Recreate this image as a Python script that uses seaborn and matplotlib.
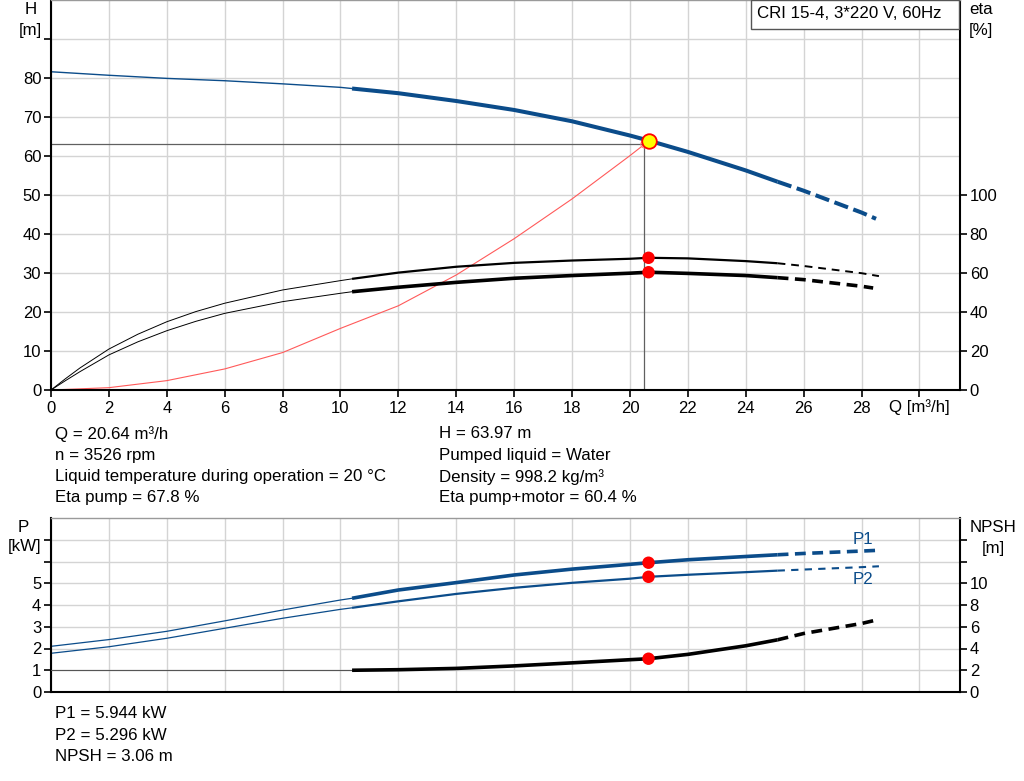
import matplotlib

matplotlib.use("Agg")
import matplotlib.pyplot as plt          # noqa: E402
from matplotlib.patches import Rectangle  # noqa: E402
import numpy as np                       # noqa: E402
import pandas as pd                      # noqa: E402
import seaborn as sns                    # noqa: E402

BLUE = "#0b4c8a"
RED = "#ff0000"
GRID = "#d4d4d4"
FS = 12.2

# ---------------------------------------------------------------------------
# Data
# ---------------------------------------------------------------------------
Q_DUTY = 20.64
Q_REQ, H_REQ = 20.5, 63.0          # requested point (gray cross lines)

q_head = [0, 2, 4, 6, 8, 10, 10.4, 12, 14, 16, 18, 20, 20.64, 22, 24, 25.1, 26, 27, 28, 28.5]
head = [81.6, 80.7, 79.9, 79.3, 78.5, 77.6, 77.3, 76.1, 74.1, 71.8, 68.9, 65.25, 63.97,
        61.05, 56.3, 53.4, 51.1, 48.3, 45.5, 43.9]

q_sys = [0, 2, 4, 6, 8, 10, 12, 14, 16, 18, 20, 20.5]
h_sys = [0, 0.6, 2.4, 5.4, 9.6, 15.8, 21.6, 29.5, 38.8, 49.0, 60.1, 63.0]

q_eta_p = [0, 0.5, 1, 2, 3, 4, 5, 6, 8, 10, 10.4, 12, 14, 16, 18, 20, 20.64, 22, 24, 25.1,
           26, 28, 28.6]
eta_pump = [0, 5.8, 11.3, 21.0, 28.6, 35.0, 40.2, 44.5, 51.3, 56.1, 57.0, 60.2, 63.2, 65.2,
            66.4, 67.3, 67.8, 67.5, 66.1, 65.0, 63.6, 59.9, 58.4]

q_eta_m = [0, 0.5, 1, 2, 3, 4, 5, 6, 8, 10, 10.4, 12, 14, 16, 18, 20, 20.64, 22, 24, 25.1,
           26, 28, 28.4]
eta_motor = [0, 4.8, 9.4, 18.0, 24.7, 30.4, 35.2, 39.3, 45.3, 49.6, 50.4, 52.7, 55.2, 57.3,
             58.7, 59.9, 60.4, 59.8, 58.7, 57.6, 56.6, 53.2, 52.3]

q_p1 = [0, 2, 4, 6, 8, 10, 10.4, 12, 14, 16, 18, 20, 20.64, 22, 24, 25.1, 26, 28, 28.5]
p1 = [2.10, 2.41, 2.79, 3.27, 3.77, 4.23, 4.31, 4.69, 5.03, 5.38, 5.65, 5.87, 5.944,
      6.08, 6.23, 6.31, 6.37, 6.48, 6.51]

q_p2 = [0, 2, 4, 6, 8, 10, 10.4, 12, 14, 16, 18, 20, 20.64, 22, 24, 25.1, 26, 28, 28.6]
p2 = [1.78, 2.08, 2.47, 2.93, 3.39, 3.80, 3.87, 4.17, 4.51, 4.79, 5.02, 5.21, 5.296,
      5.39, 5.51, 5.58, 5.63, 5.74, 5.78]

q_npsh = [0, 10.4, 12, 14, 16, 18, 20, 20.64, 22, 24, 25.1, 26, 28, 28.4]
npsh = [2.0, 2.0, 2.05, 2.17, 2.40, 2.68, 2.97, 3.06, 3.46, 4.25, 4.80, 5.38, 6.30, 6.55]

info_left = ["Q = 20.64 m³/h", "n = 3526 rpm",
             "Liquid temperature during operation = 20 °C", "Eta pump = 67.8 %"]
info_right = ["H = 63.97 m", "Pumped liquid = Water",
              "Density = 998.2 kg/m³", "Eta pump+motor = 60.4 %"]
info_bottom = ["P1 = 5.944 kW", "P2 = 5.296 kW", "NPSH = 3.06 m"]

# ---------------------------------------------------------------------------
sns.set_theme(style="whitegrid")
plt.rcParams["font.family"] = ["Liberation Sans", "DejaVu Sans"]
plt.rcParams["font.size"] = FS

W, H_PX = 1024, 781
fig = plt.figure(figsize=(W / 100, H_PX / 100), dpi=100)


def px(x, y):
    return x / W, 1 - y / H_PX


def curve(ax, q, v, color, lw, dash, q_a=10.4, q_b=25.1):
    """Thin line below q_a, thick solid between q_a..q_b, dashed beyond."""
    df = pd.DataFrame({"q": q, "v": v})
    thin = df[df.q <= q_a]
    solid = df[(df.q >= q_a) & (df.q <= q_b)]
    dashed = df[df.q >= q_b]
    kw = dict(x="q", y="v", ax=ax, color=color, sort=False, errorbar=None, legend=False)
    sns.lineplot(data=thin, lw=lw[0], **kw)
    sns.lineplot(data=solid, lw=lw[1], solid_capstyle="butt", solid_joinstyle="round", **kw)
    sns.lineplot(data=dashed, lw=lw[2], linestyle=(0, dash), dash_capstyle="butt", **kw)


def style_axes(ax):
    ax.set_xlim(0, 31.4)
    ax.set_facecolor("white")
    ax.grid(True, color=GRID, lw=1.0)
    for s in ("left", "bottom", "right"):
        ax.spines[s].set_color("black")
        ax.spines[s].set_linewidth(1.5)
    ax.spines["top"].set_color("#9a9a9a")
    ax.spines["top"].set_linewidth(1.0)
    ax.set_xlabel("")
    ax.set_ylabel("")
    ax.tick_params(direction="out", length=5, width=1.2, color="black",
                   labelsize=12, labelcolor="black", pad=2)


def style_twin(ax):
    ax.grid(False)
    for s in ax.spines.values():
        s.set_visible(False)
    ax.tick_params(axis="y", right=True, direction="out", length=5, width=1.2, color="black",
                   labelsize=12, labelcolor="black", pad=2)


# ---------------------------- top: H / eta ---------------------------------
ax = fig.add_axes([51 / W, 1 - 390 / H_PX, (960 - 51) / W, 390 / H_PX])
style_axes(ax)
ax.set_ylim(0, 100)
xt = np.arange(0, 31, 2)
ax.set_xticks(xt)
ax.set_xticklabels([str(v) if v <= 28 else "" for v in xt])
yt = np.arange(0, 100, 10)
ax.set_yticks(yt)
ax.set_yticklabels([str(v) if v <= 80 else "" for v in yt])
ax.tick_params(axis="x", bottom=True, pad=3)
ax.tick_params(axis="y", left=True)

# requested point cross lines
ax.plot([0, Q_REQ], [H_REQ, H_REQ], color="#606060", lw=0.9)
ax.plot([Q_REQ, Q_REQ], [0, H_REQ], color="#606060", lw=0.9)

sns.lineplot(x=q_sys, y=h_sys, ax=ax, color="#ff5a5a", lw=0.8, sort=False, errorbar=None)
ax.scatter([q_sys[-1]], [h_sys[-1]], s=28, facecolor="none", edgecolor="#ff8080", lw=0.7, zorder=4)

curve(ax, q_head, head, BLUE, (1.0, 2.9, 2.9), (3.6, 1.4))

axe = ax.twinx()
axe.set_ylim(0, 200)
style_twin(axe)
axe.set_yticks(np.arange(0, 101, 20))
curve(axe, q_eta_p, eta_pump, "black", (0.7, 1.6, 1.4), (4.0, 3.0))
curve(axe, q_eta_m, eta_motor, "black", (0.7, 2.6, 2.6), (3.0, 1.8))
axe.set_ylabel("")
sns.scatterplot(x=[Q_DUTY, Q_DUTY], y=[eta_pump[16], eta_motor[16]], ax=axe, s=80,
                color=RED, edgecolor="none", zorder=5)
sns.scatterplot(x=[Q_DUTY], y=[head[12]], ax=ax, s=110, color="#ffff00",
                edgecolor=RED, linewidth=1.3, zorder=6)

# ---------------------------- bottom: P / NPSH -----------------------------
bx = fig.add_axes([51 / W, 1 - 692 / H_PX, (960 - 51) / W, 174 / H_PX])
style_axes(bx)
bx.set_ylim(0, 8)
bx.set_xticks(xt)
bx.set_xticklabels([])
bx.tick_params(axis="x", bottom=False, length=0)
bx.set_yticks(np.arange(0, 8, 1))
bx.set_yticklabels([str(v) if v <= 5 else "" for v in range(8)])
bx.tick_params(axis="y", left=True)

curve(bx, q_p1, p1, BLUE, (0.9, 2.6, 2.6), (3.0, 1.8))
curve(bx, q_p2, p2, BLUE, (0.9, 1.6, 1.5), (3.5, 3.0))

bxn = bx.twinx()
bxn.set_ylim(0, 16)
style_twin(bxn)
bxn.set_yticks(np.arange(0, 15, 2))
bxn.set_yticklabels([str(v) if v <= 10 else "" for v in range(0, 15, 2)])
curve(bxn, q_npsh, npsh, "black", (0.8, 2.6, 2.6), (3.0, 1.8))
bxn.get_lines()[0].set_color("#555555")
bxn.set_ylabel("")

sns.scatterplot(x=[Q_DUTY, Q_DUTY], y=[p1[12], p2[12]], ax=bx, s=80, color=RED,
                edgecolor="none", zorder=5)
sns.scatterplot(x=[Q_DUTY], y=[npsh[7]], ax=bxn, s=80, color=RED, edgecolor="none", zorder=5)
bx.set_xlabel(""); bx.set_ylabel("")
ax.set_xlabel(""); ax.set_ylabel("")

# ---------------------------- text -----------------------------------------
tk = dict(fontsize=FS, color="black")
fig.text(*px(31, 10), "H", ha="center", va="center", **tk)
fig.text(*px(30, 30), "[m]", ha="center", va="center", **tk)
fig.text(*px(981, 10), "eta", ha="center", va="center", **tk)
fig.text(*px(981, 30), "[%]", ha="center", va="center", **tk)
fig.text(*px(889, 407), "Q [m³/h]", ha="left", va="center", **tk)
fig.text(*px(23, 527), "P", ha="center", va="center", **tk)
fig.text(*px(25, 547), "[kW]", ha="center", va="center", **tk)
fig.text(*px(993, 528), "NPSH", ha="center", va="center", **tk)
fig.text(*px(993, 548), "[m]", ha="center", va="center", **tk)
fig.text(*px(863, 540), "P1", ha="center", va="center", fontsize=FS, color=BLUE)
fig.text(*px(863, 579), "P2", ha="center", va="center", fontsize=FS, color=BLUE)

for i, s in enumerate(info_left):
    fig.text(*px(55, 434 + 21.3 * i), s, ha="left", va="center", **tk)
for i, s in enumerate(info_right):
    fig.text(*px(439, 434 + 21.3 * i), s, ha="left", va="center", **tk)
for i, s in enumerate(info_bottom):
    fig.text(*px(55, 713.5 + 21.5 * i), s, ha="left", va="center", **tk)

fig.patches.append(Rectangle(px(750.5, 28.5), (959 - 750.5) / W, 29 / H_PX,
                             transform=fig.transFigure, facecolor="white",
                             edgecolor="#555555", lw=1.0, zorder=10))
fig.text(*px(757, 14), "CRI 15-4, 3*220 V, 60Hz", ha="left", va="center",
         zorder=11, **tk)

fig.savefig("out.png", dpi=100, facecolor="white")
